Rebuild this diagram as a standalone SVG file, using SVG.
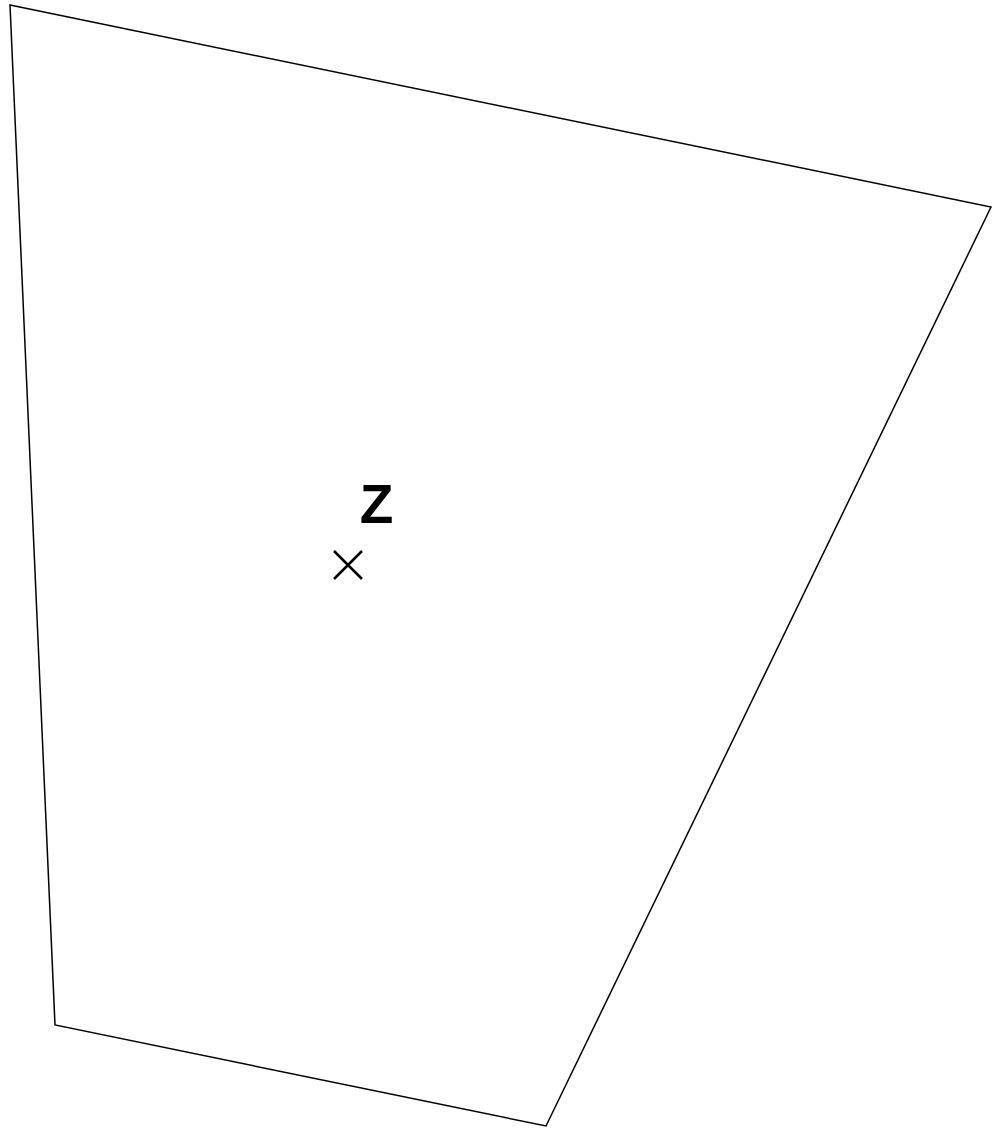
<svg xmlns="http://www.w3.org/2000/svg" width="995" height="1128" viewBox="0 0 995 1128">
<style>
.outline{fill:none;stroke:#000;stroke-width:1.5}
.mark{stroke:#000;stroke-width:2.5;fill:none}
.lbl{font-family:"Liberation Sans",Arial,sans-serif;font-weight:bold;font-size:55px;fill:#000}
</style>
<rect width="995" height="1128" fill="#fff"/>
<g id="region">
<polygon class="outline" points="10,5 991,207 546,1126 55,1025"/>
</g>
<g id="point-z">
<text class="lbl" x="376.5" y="523" text-anchor="middle">Z</text>
<path class="mark" d="M334,551 L362,579 M362,551 L334,579"/>
</g>
</svg>
